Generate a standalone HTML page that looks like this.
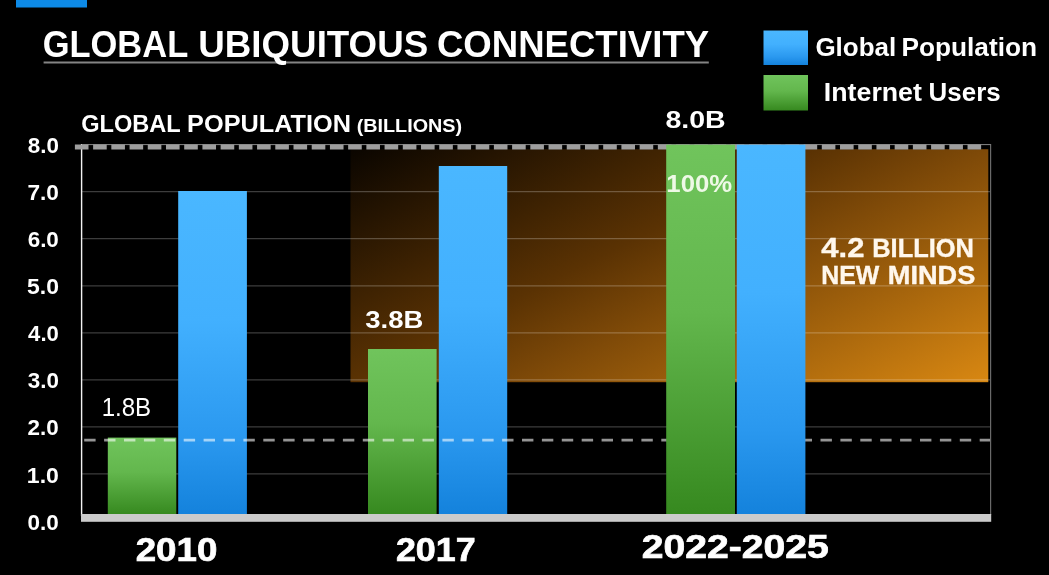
<!DOCTYPE html>
<html>
<head>
<meta charset="utf-8">
<title>Global Ubiquitous Connectivity</title>
<style>
  html, body { margin: 0; padding: 0; background: #000; overflow: hidden; }
  body { width: 1049px; height: 575px; font-family: "Liberation Sans", sans-serif; }
  svg { display: block; font-family: "Liberation Sans", sans-serif; filter: blur(0.45px); }
</style>
</head>
<body>
<svg width="1049" height="575" viewBox="0 0 1049 575">
  <defs>
    <linearGradient id="gBlue" x1="0" y1="0" x2="0" y2="1">
      <stop offset="0" stop-color="#4ab7ff"/>
      <stop offset="0.4" stop-color="#42b0fe"/>
      <stop offset="0.77" stop-color="#2a98ef"/>
      <stop offset="1" stop-color="#1482dc"/>
    </linearGradient>
    <linearGradient id="gGreen" x1="0" y1="0" x2="0" y2="1">
      <stop offset="0" stop-color="#70c45c"/>
      <stop offset="0.45" stop-color="#63b74d"/>
      <stop offset="1" stop-color="#36891f"/>
    </linearGradient>
    <linearGradient id="gOrange" gradientUnits="userSpaceOnUse" x1="350" y1="149" x2="572" y2="592">
      <stop offset="0" stop-color="#0a0500"/>
      <stop offset="0.42" stop-color="#5a3203"/>
      <stop offset="0.58" stop-color="#7f4a08"/>
      <stop offset="1" stop-color="#d98812"/>
    </linearGradient>
  </defs>

  <rect width="1049" height="575" fill="#000"/>

  <!-- top-left blue tab -->
  <rect x="16" y="-2" width="71" height="9.5" fill="#0d8ae7"/>

  <!-- title underline -->
  <rect x="43.6" y="61.5" width="665.2" height="2" fill="#848484"/>

  <!-- legend swatches -->
  <rect x="763.5" y="30.5" width="44.5" height="34.5" fill="url(#gBlue)"/>
  <rect x="763.5" y="75" width="44.5" height="35.5" fill="url(#gGreen)"/>

  <!-- orange highlight -->
  <rect x="350.5" y="149.2" width="637.8" height="233" fill="url(#gOrange)"/>

  <!-- gridlines -->
  <g stroke="#ffffff" stroke-opacity="0.24" stroke-width="1.3">
    <line x1="82" x2="990" y1="191.7" y2="191.7"/>
    <line x1="82" x2="990" y1="238.7" y2="238.7"/>
    <line x1="82" x2="990" y1="285.8" y2="285.8"/>
    <line x1="82" x2="990" y1="332.8" y2="332.8"/>
    <line x1="82" x2="990" y1="379.8" y2="379.8"/>
    <line x1="82" x2="990" y1="426.9" y2="426.9"/>
    <line x1="82" x2="990" y1="473.9" y2="473.9"/>
  </g>

  <!-- axes -->
  <rect x="80.9" y="144" width="1.4" height="372" fill="#f2f2f2"/>
  <rect x="990" y="144" width="1.2" height="371" fill="#6a6a6a"/>

  <!-- 8.0 gridline / top border -->
  <rect x="82" y="144" width="909" height="1.1" fill="#7a7a7a"/>
  <!-- top dashed line -->
  <line x1="74.9" x2="981.2" y1="147" y2="147" stroke="#9e9e9e" stroke-width="5" stroke-dasharray="13.6 4.617"/>

  <!-- bars -->
  <rect x="107.8" y="437.6" width="68.5" height="77" fill="url(#gGreen)"/>
  <rect x="178.2" y="191" width="68.7" height="323.5" fill="url(#gBlue)"/>

  <rect x="368" y="349" width="68.6" height="165.5" fill="url(#gGreen)"/>
  <rect x="438.8" y="166" width="68.4" height="348.5" fill="url(#gBlue)"/>


  <!-- 1.8 dashed line -->
  <line x1="84.2" x2="990" y1="440.1" y2="440.1" stroke="#ffffff" stroke-opacity="0.58" stroke-width="2.7" stroke-dasharray="11.4 8.5"/>

  <!-- 2022-2025 bars (drawn above the dashed line) -->
  <rect x="666.2" y="144.7" width="68.8" height="370" fill="url(#gGreen)"/>
  <rect x="736.8" y="144.7" width="68.6" height="370" fill="url(#gBlue)"/>

  <!-- base bar -->
  <rect x="81" y="514" width="910.2" height="7.8" fill="#cbcbcb"/>

  <text id="t1" x="42.64" y="57.30" font-size="36.48" font-weight="bold" fill="#fff" textLength="145.59" lengthAdjust="spacingAndGlyphs" >GLOBAL</text>
  <text id="t2" x="198.37" y="57.30" font-size="36.48" font-weight="bold" fill="#fff" textLength="229.77" lengthAdjust="spacingAndGlyphs" >UBIQUITOUS</text>
  <text id="t3" x="436.95" y="57.30" font-size="36.48" font-weight="bold" fill="#fff" textLength="272.17" lengthAdjust="spacingAndGlyphs" >CONNECTIVITY</text>
  <text id="l1" x="815.40" y="56.20" font-size="24.85" font-weight="bold" fill="#fff" textLength="80.86" lengthAdjust="spacingAndGlyphs" >Global</text>
  <text id="l2" x="901.42" y="56.20" font-size="24.85" font-weight="bold" fill="#fff" textLength="135.58" lengthAdjust="spacingAndGlyphs" >Population</text>
  <text id="l3" x="823.87" y="101.30" font-size="25.15" font-weight="bold" fill="#fff" textLength="98.04" lengthAdjust="spacingAndGlyphs" >Internet</text>
  <text id="l4" x="928.64" y="101.30" font-size="25.15" font-weight="bold" fill="#fff" textLength="72.02" lengthAdjust="spacingAndGlyphs" >Users</text>
  <text id="s1" x="81.16" y="131.60" font-size="24.42" font-weight="bold" fill="#fff" textLength="99.55" lengthAdjust="spacingAndGlyphs" >GLOBAL</text>
  <text id="s2" x="187.08" y="131.60" font-size="24.42" font-weight="bold" fill="#fff" textLength="163.96" lengthAdjust="spacingAndGlyphs" >POPULATION</text>
  <text id="s3" x="356.71" y="131.60" font-size="18.31" font-weight="bold" fill="#fff" textLength="105.35" lengthAdjust="spacingAndGlyphs" >(BILLIONS)</text>
  <text id="d1" x="101.66" y="415.70" font-size="26.31" font-weight="normal" fill="#fff" textLength="49.53" lengthAdjust="spacingAndGlyphs" >1.8B</text>
  <text id="d2" x="365.29" y="327.60" font-size="24.56" font-weight="bold" fill="#fff" textLength="58.09" lengthAdjust="spacingAndGlyphs" >3.8B</text>
  <text id="d3" x="665.42" y="127.50" font-size="23.69" font-weight="bold" fill="#fff" textLength="60.27" lengthAdjust="spacingAndGlyphs" >8.0B</text>
  <text id="d4" x="666.35" y="192.00" font-size="23.26" font-weight="bold" fill="#eef9e6" textLength="65.79" lengthAdjust="spacingAndGlyphs" >100%</text>
  <text id="c1" x="821.29" y="257.00" font-size="28.05" font-weight="bold" fill="#fff7ec" textLength="43.20" lengthAdjust="spacingAndGlyphs" stroke="#fff7ec" stroke-width="0.35">4.2</text>
  <text id="c2" x="872.26" y="257.00" font-size="25.29" font-weight="bold" fill="#fff7ec" textLength="101.71" lengthAdjust="spacingAndGlyphs" stroke="#fff7ec" stroke-width="0.35">BILLION</text>
  <text id="c3" x="821.18" y="283.80" font-size="24.85" font-weight="bold" fill="#fff7ec" textLength="58.03" lengthAdjust="spacingAndGlyphs" stroke="#fff7ec" stroke-width="0.35">NEW</text>
  <text id="c4" x="887.83" y="283.80" font-size="24.85" font-weight="bold" fill="#fff7ec" textLength="87.54" lengthAdjust="spacingAndGlyphs" stroke="#fff7ec" stroke-width="0.35">MINDS</text>
  <text id="x1" x="135.68" y="561.40" font-size="33.72" font-weight="bold" fill="#fff" textLength="81.63" lengthAdjust="spacingAndGlyphs" stroke="#fff" stroke-width="0.7">2010</text>
  <text id="x2" x="395.91" y="561.40" font-size="33.72" font-weight="bold" fill="#fff" textLength="79.81" lengthAdjust="spacingAndGlyphs" stroke="#fff" stroke-width="0.7">2017</text>
  <text id="x3" x="641.75" y="557.80" font-size="33.72" font-weight="bold" fill="#fff" textLength="187.10" lengthAdjust="spacingAndGlyphs" stroke="#fff" stroke-width="0.7">2022-2025</text>
  <text id="y0" x="27.78" y="152.70" font-size="21.80" font-weight="bold" fill="#fff" textLength="31.14" lengthAdjust="spacingAndGlyphs" >8.0</text>
  <text id="y1" x="27.40" y="199.82" font-size="21.80" font-weight="bold" fill="#fff" textLength="31.51" lengthAdjust="spacingAndGlyphs" >7.0</text>
  <text id="y2" x="27.66" y="246.95" font-size="21.80" font-weight="bold" fill="#fff" textLength="31.19" lengthAdjust="spacingAndGlyphs" >6.0</text>
  <text id="y3" x="27.02" y="294.08" font-size="21.80" font-weight="bold" fill="#fff" textLength="31.90" lengthAdjust="spacingAndGlyphs" >5.0</text>
  <text id="y4" x="28.12" y="341.20" font-size="21.80" font-weight="bold" fill="#fff" textLength="30.72" lengthAdjust="spacingAndGlyphs" >4.0</text>
  <text id="y5" x="27.78" y="388.33" font-size="21.80" font-weight="bold" fill="#fff" textLength="31.14" lengthAdjust="spacingAndGlyphs" >3.0</text>
  <text id="y6" x="27.64" y="435.45" font-size="21.80" font-weight="bold" fill="#fff" textLength="31.17" lengthAdjust="spacingAndGlyphs" >2.0</text>
  <text id="y7" x="26.89" y="482.58" font-size="21.80" font-weight="bold" fill="#fff" textLength="32.07" lengthAdjust="spacingAndGlyphs" >1.0</text>
  <text id="y8" x="27.64" y="529.70" font-size="21.80" font-weight="bold" fill="#fff" textLength="31.25" lengthAdjust="spacingAndGlyphs" >0.0</text>
</svg>
</body>
</html>
